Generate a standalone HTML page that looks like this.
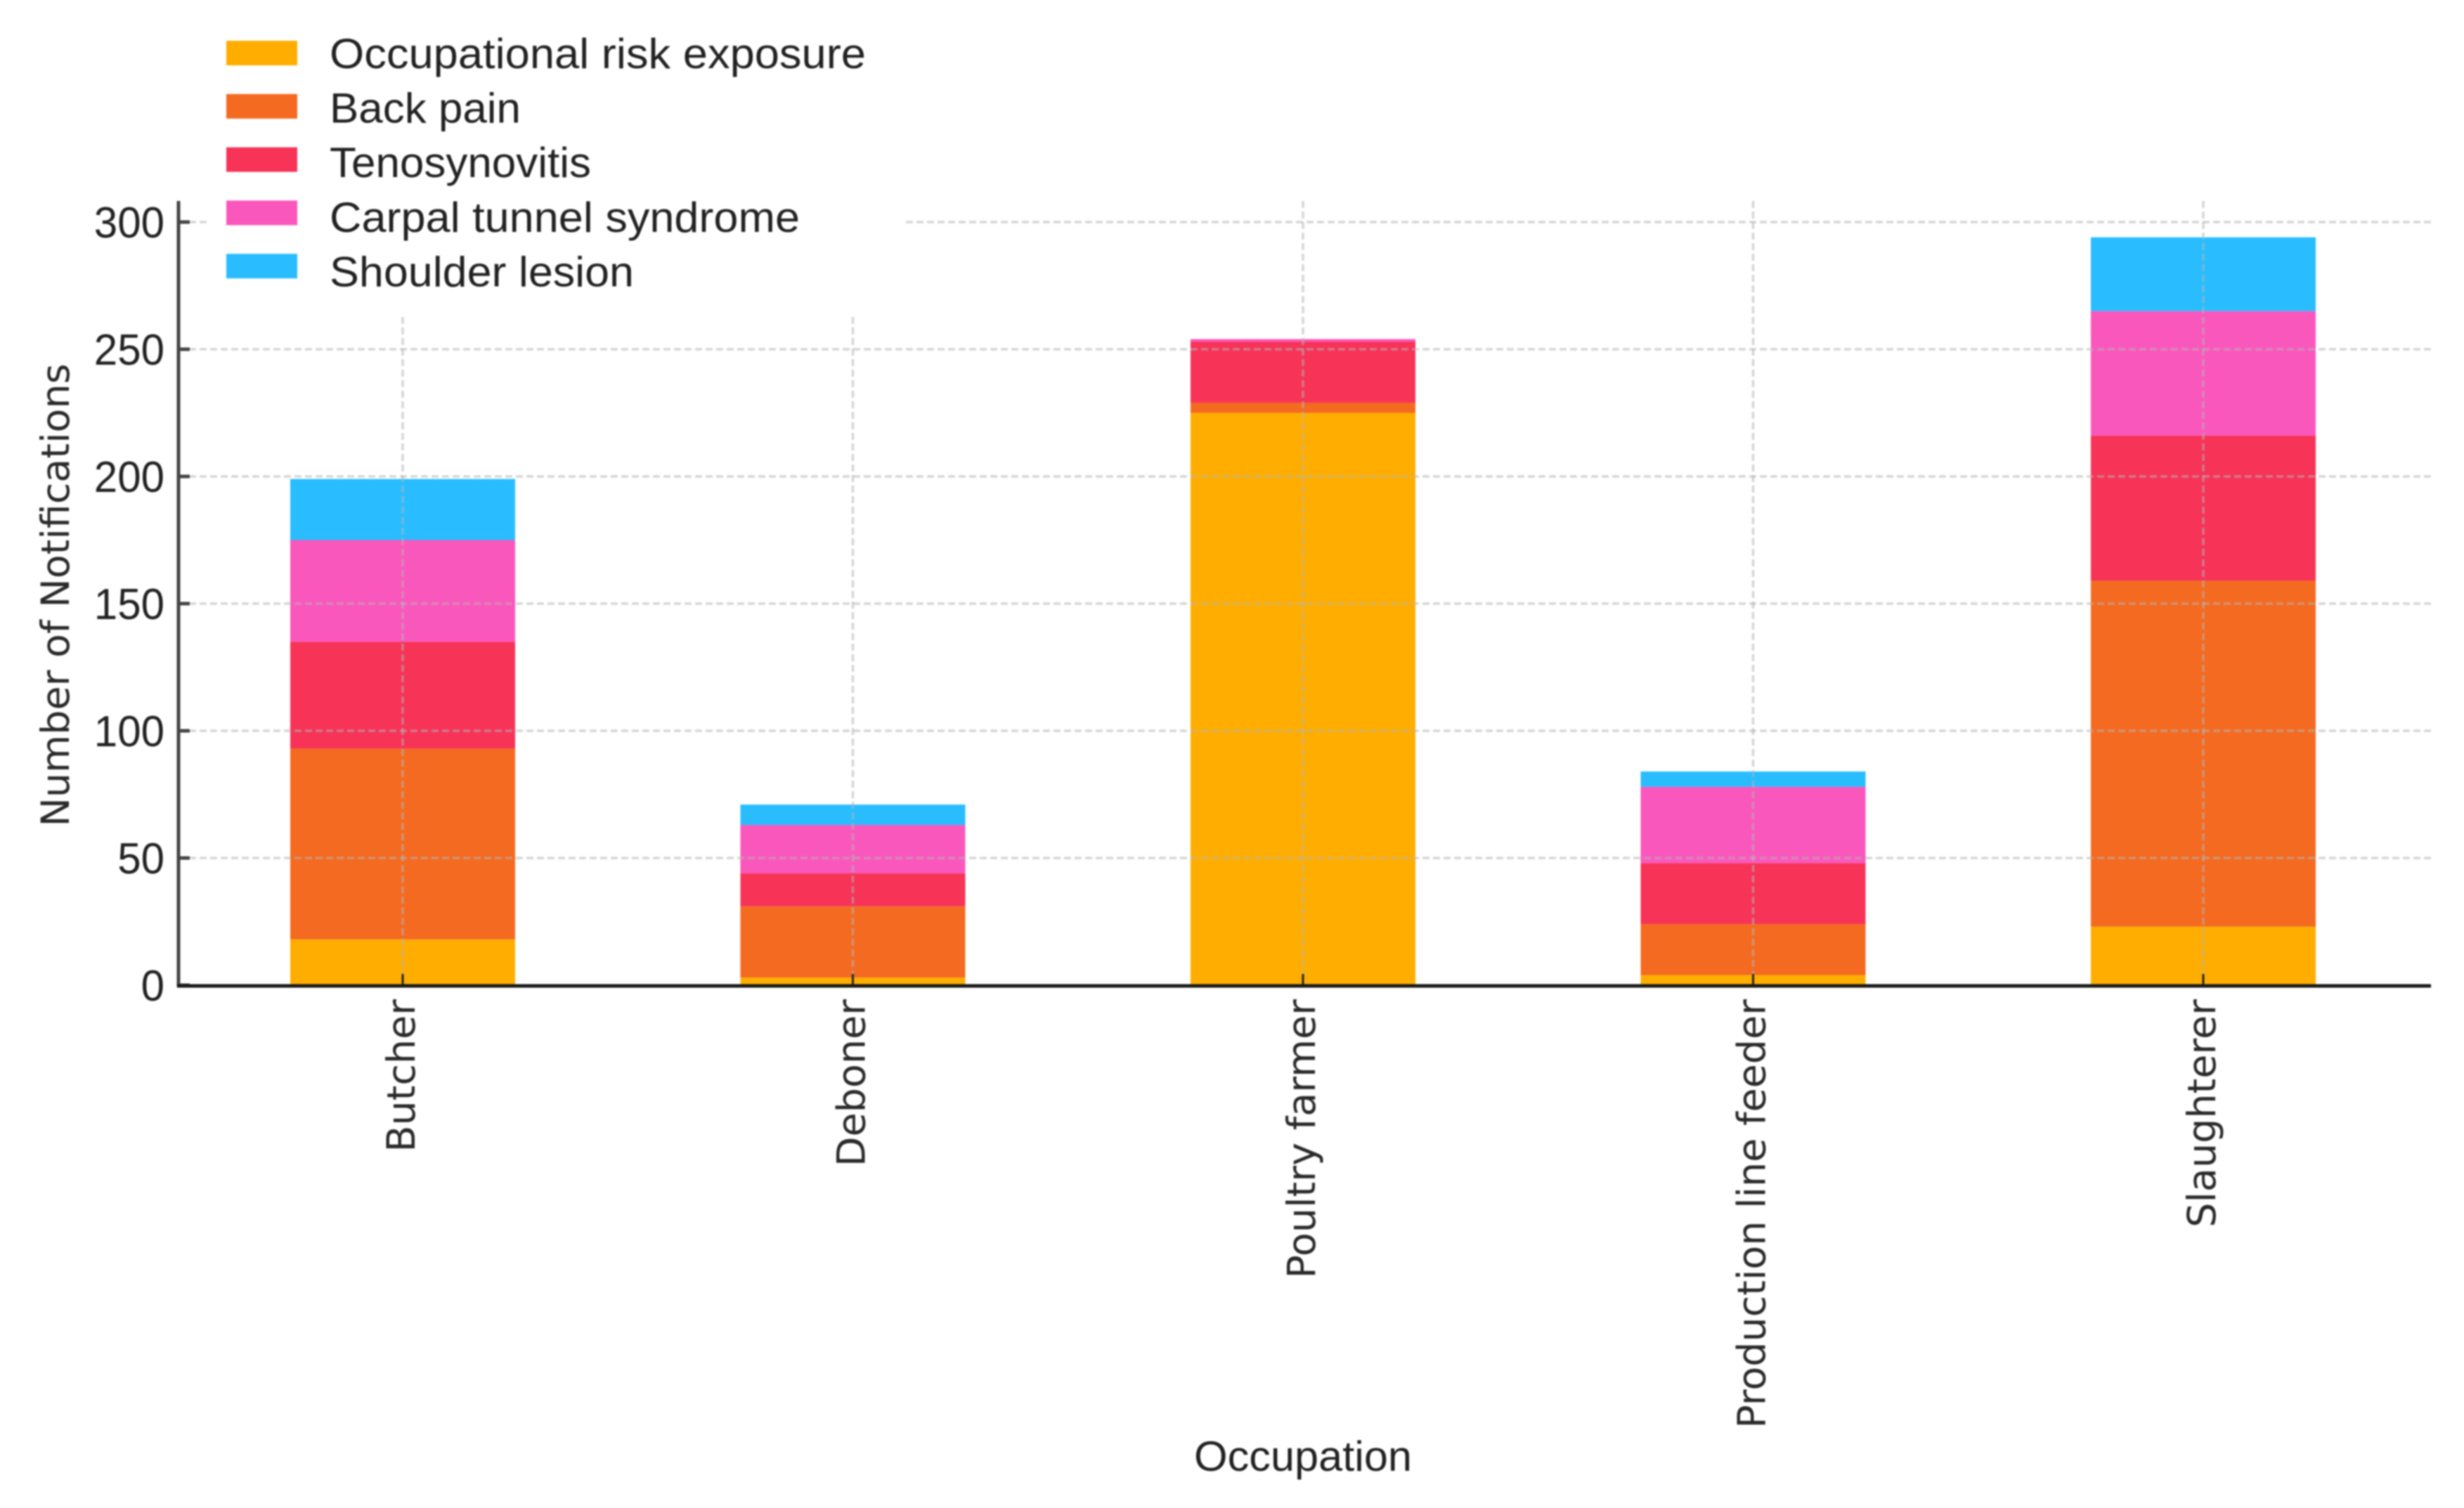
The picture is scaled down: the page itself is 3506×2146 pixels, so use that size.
<!DOCTYPE html>
<html lang="en">
<head>
<meta charset="utf-8">
<title>Notifications by occupation</title>
<style>
html,body{margin:0;padding:0;background:#fff;}
svg{display:block;filter:blur(1px);}
text{font-family:"Liberation Sans",sans-serif;fill:#222;}
.dj{font-family:"DejaVu Sans",sans-serif;font-size:55.5px;fill:#2a2a2a;}
</style>
</head>
<body>
<svg id="chart" xmlns="http://www.w3.org/2000/svg" width="3506" height="2146" viewBox="0 0 3506 2146">
<rect width="3506" height="2146" fill="#ffffff"/>
<g id="bars"></g>
<g id="grid"></g>
<rect x="299" y="0" width="987" height="449" fill="#ffffff"/>
<g id="legend"></g>
<g id="axes"></g>
<text class="dj" transform="translate(98,847) rotate(-90)" text-anchor="middle">Number of Notifications</text>
<text x="1699" y="2093" font-size="60" textLength="310" lengthAdjust="spacingAndGlyphs">Occupation</text>
</svg>
<script>
var categories = ["Butcher", "Deboner", "Poultry farmer", "Production line feeder", "Slaughterer"];
var seriesNames = ["Occupational risk exposure", "Back pain", "Tenosynovitis", "Carpal tunnel syndrome", "Shoulder lesion"];
var occupationalRisk = [18, 3, 225, 4, 23];
var backPain = [75, 28, 4, 20, 136];
var tenosynovitis = [42, 13, 24, 24, 57];
var carpalTunnel = [40, 19, 1, 30, 49];
var shoulderLesion = [24, 8, 0, 6, 29];
var yTicks = [0, 50, 100, 150, 200, 250, 300];

var NS = 'http://www.w3.org/2000/svg';
var seriesValues = [occupationalRisk, backPain, tenosynovitis, carpalTunnel, shoulderLesion];
var seriesColors = ['#FFAE00', '#F46A21', '#F73357', '#FA57BD', '#29BDFF'];
var legendWidths = [763, 272, 372, 669, 433];

function xPos(i) { return 573 + i * 640.5; }
function yPos(v) { return 1402 - v * 3.62; }
function make(tag, attrs, parent, txt) {
  var el = document.createElementNS(NS, tag);
  for (var k in attrs) el.setAttribute(k, attrs[k]);
  if (txt !== undefined) el.textContent = txt;
  parent.appendChild(el);
  return el;
}
var barsG = document.getElementById('bars');
var gridG = document.getElementById('grid');
var legendG = document.getElementById('legend');
var axesG = document.getElementById('axes');
var barWidth = 320;

categories.forEach(function (cat, i) {
  var base = 0;
  seriesValues.forEach(function (vals, s) {
    var v = vals[i];
    var rect = make('rect', {x: xPos(i) - barWidth / 2, y: yPos(base + v), width: barWidth, height: yPos(base) - yPos(base + v), fill: seriesColors[s]}, barsG);
    
    
    base += v;
  });
  var vg = make('line', {x1: xPos(i), x2: xPos(i), y1: 286, y2: 1402, stroke: '#b4b4b4', 'stroke-opacity': 0.55, 'stroke-width': 3.5, 'stroke-dasharray': '10 5'}, gridG);
  
  
  var tick = make('line', {x1: xPos(i), x2: xPos(i), y1: 1386, y2: 1402, stroke: '#222222', 'stroke-width': 3}, axesG);
  
  
  var lbl = make('text', {'class': 'dj', transform: 'translate(' + (xPos(i) + 17) + ',1422) rotate(-90)', 'text-anchor': 'end'}, axesG, cat);
  
  
});

yTicks.forEach(function (t) {
  var y = yPos(t);
  if (t > 0) {
    var hg = make('line', {x1: 254, x2: 3459, y1: y, y2: y, stroke: '#b4b4b4', 'stroke-opacity': 0.55, 'stroke-width': 3.5, 'stroke-dasharray': '10 5'}, gridG);
    
    
  }
  var tk = make('line', {x1: 254, x2: 270, y1: y, y2: y, stroke: '#444444', 'stroke-width': 5}, axesG);
  
  
  var s = String(t);
  var lab = make('text', {x: 234, y: y + 22, 'font-size': 62, 'text-anchor': 'end', textLength: s.length * 33.4, lengthAdjust: 'spacingAndGlyphs', fill: '#333333'}, axesG, s);
  
  
});

var ySpine = make('line', {x1: 254, x2: 254, y1: 286, y2: 1404, stroke: '#444444', 'stroke-width': 5}, axesG);


var xSpine = make('line', {x1: 252, x2: 3459, y1: 1403, y2: 1403, stroke: '#1a1a1a', 'stroke-width': 5}, axesG);



seriesNames.forEach(function (name, s) {
  var top = 58 + s * 75.8;
  var sw = make('rect', {x: 322, y: top, width: 101, height: 35, fill: seriesColors[s]}, legendG);
  
  
  var tx = make('text', {x: 469, y: 97 + s * 77.6, 'font-size': 60, textLength: legendWidths[s], lengthAdjust: 'spacingAndGlyphs', fill: '#111111'}, legendG, name);
  
  
});
</script>
</body>
</html>
